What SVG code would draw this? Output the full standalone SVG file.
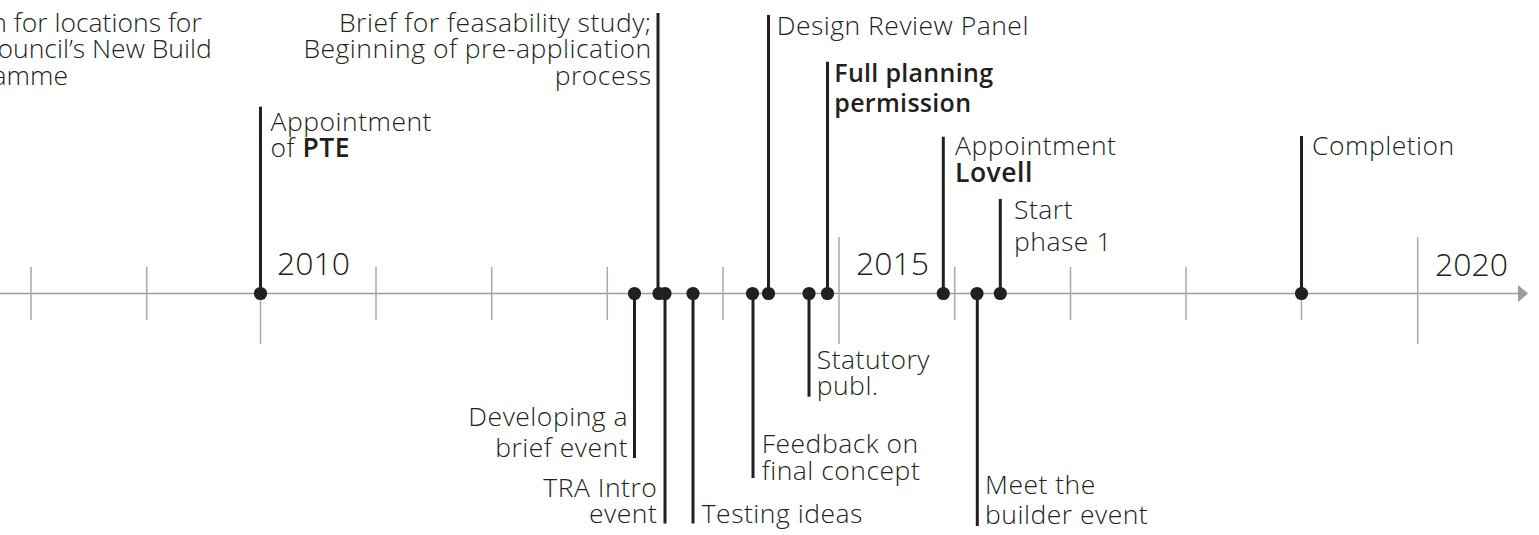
<svg xmlns="http://www.w3.org/2000/svg" width="1539" height="535" viewBox="0 0 1539 535">
<style>
.lbl{font-family:"Open Sans","Noto Sans",sans-serif;font-size:26.5px;font-weight:300;letter-spacing:0.5px;fill:#231f20}
.tight{letter-spacing:0px}
.b{font-weight:600}
.fp{font-size:25px;letter-spacing:0.3px}
.end{text-anchor:end}
.year{font-family:"Open Sans","Noto Sans",sans-serif;font-size:32px;font-weight:300;fill:#231f20}
.stem{stroke:#231f20;stroke-width:3;fill:none}
.tick{stroke:#a7a9ac;stroke-width:1.5;fill:none}
.axis{stroke:#9a9ca0;stroke-width:1.5;fill:none}
.dot{fill:#231f20}
</style>
<rect width="1539" height="535" fill="#ffffff"/>
<g id="axis">
<line class="axis" x1="0" y1="293.5" x2="1520" y2="293.5"/>
<polygon points="1518,285 1528,293.5 1518,302" fill="#9a9ca0"/>
<line class="tick" x1="31" y1="267" x2="31" y2="320"/>
<line class="tick" x1="146.7" y1="267" x2="146.7" y2="320"/>
<line class="tick" x1="260.5" y1="237" x2="260.5" y2="344"/>
<line class="tick" x1="376" y1="267" x2="376" y2="320"/>
<line class="tick" x1="491.7" y1="267" x2="491.7" y2="320"/>
<line class="tick" x1="607.3" y1="267" x2="607.3" y2="320"/>
<line class="tick" x1="723" y1="267" x2="723" y2="320"/>
<line class="tick" x1="839" y1="237" x2="839" y2="344"/>
<line class="tick" x1="954.7" y1="267" x2="954.7" y2="320"/>
<line class="tick" x1="1070.5" y1="267" x2="1070.5" y2="320"/>
<line class="tick" x1="1186" y1="267" x2="1186" y2="320"/>
<line class="tick" x1="1301.5" y1="267" x2="1301.5" y2="320"/>
<line class="tick" x1="1417.7" y1="237" x2="1417.7" y2="344"/>
<text class="year" x="277" y="275">2010</text>
<text class="year" x="856" y="275">2015</text>
<text class="year" x="1435" y="276">2020</text>
</g>
<g id="connectors">
<line class="stem" x1="260.5" y1="106.7" x2="260.5" y2="293.5"/>
<line class="stem" x1="658" y1="13" x2="658" y2="293.5"/>
<line class="stem" x1="768.5" y1="15" x2="768.5" y2="293.5"/>
<line class="stem" x1="827.5" y1="61.7" x2="827.5" y2="293.5"/>
<line class="stem" x1="943.3" y1="136.7" x2="943.3" y2="293.5"/>
<line class="stem" x1="1000.3" y1="199" x2="1000.3" y2="293.5"/>
<line class="stem" x1="1301.5" y1="136" x2="1301.5" y2="293.5"/>
<line class="stem" x1="634.5" y1="293.5" x2="634.5" y2="458"/>
<line class="stem" x1="665" y1="293.5" x2="665" y2="523.5"/>
<line class="stem" x1="693" y1="293.5" x2="693" y2="523.5"/>
<line class="stem" x1="753" y1="293.5" x2="753" y2="478"/>
<line class="stem" x1="809" y1="293.5" x2="809" y2="396.7"/>
<line class="stem" x1="977.3" y1="293.5" x2="977.3" y2="526"/>
</g>
<g id="ev-search">
<text class="lbl tight end" x="201.7" y="31.7">n for locations for</text>
<text class="lbl tight end" x="211.7" y="58.3">ouncil’s New Build</text>
<text class="lbl tight end" x="68" y="84.5">amme</text>
</g>
<g id="ev-pte">
<circle class="dot" cx="260.5" cy="293.5" r="6.6"/>
<text class="lbl" x="270.5" y="130.5">Appointment</text>
<text class="lbl" x="270.5" y="156.7">of <tspan class="b">PTE</tspan></text>
</g>
<g id="ev-developing">
<circle class="dot" cx="634.5" cy="293.5" r="6.6"/>
<text class="lbl end" x="628" y="425.7">Developing a</text>
<text class="lbl end" x="628" y="456.7">brief event</text>
</g>
<g id="ev-brief">
<circle class="dot" cx="659" cy="293.5" r="6.6"/>
<text class="lbl end" x="651.7" y="31.7">Brief for feasability study;</text>
<text class="lbl end" x="651.7" y="58.3">Beginning of pre-application</text>
<text class="lbl end" x="651.7" y="85">process</text>
</g>
<g id="ev-tra">
<circle class="dot" cx="665" cy="293.5" r="6.6"/>
<text class="lbl end" x="657.3" y="496.7">TRA Intro</text>
<text class="lbl end" x="657.3" y="523">event</text>
</g>
<g id="ev-testing">
<circle class="dot" cx="693" cy="293.5" r="6.6"/>
<text class="lbl" x="701.7" y="523">Testing ideas</text>
</g>
<g id="ev-feedback">
<circle class="dot" cx="752.5" cy="293.5" r="6.6"/>
<text class="lbl" x="761.7" y="453.3">Feedback on</text>
<text class="lbl" x="761.7" y="480">final concept</text>
</g>
<g id="ev-design">
<circle class="dot" cx="768.5" cy="293.5" r="6.6"/>
<text class="lbl" x="776.7" y="35">Design Review Panel</text>
</g>
<g id="ev-statutory">
<circle class="dot" cx="809" cy="293.5" r="6.6"/>
<text class="lbl" x="816.7" y="369.3">Statutory</text>
<text class="lbl" x="816.7" y="395">publ.</text>
</g>
<g id="ev-planning">
<circle class="dot" cx="827.5" cy="293.5" r="6.6"/>
<text class="lbl b fp" x="834.3" y="81.7">Full planning</text>
<text class="lbl b fp" x="834.3" y="112">permission</text>
</g>
<g id="ev-lovell">
<circle class="dot" cx="943.3" cy="293.5" r="6.6"/>
<text class="lbl" x="955" y="155">Appointment</text>
<text class="lbl b" x="955" y="181.7">Lovell</text>
</g>
<g id="ev-meet">
<circle class="dot" cx="977" cy="293.5" r="6.6"/>
<text class="lbl" x="985" y="494.3">Meet the</text>
<text class="lbl" x="985" y="524.3">builder event</text>
</g>
<g id="ev-start">
<circle class="dot" cx="1000.3" cy="293.5" r="6.6"/>
<text class="lbl" x="1014" y="219.3">Start</text>
<text class="lbl" x="1014" y="251">phase 1</text>
</g>
<g id="ev-completion">
<circle class="dot" cx="1301.5" cy="293.5" r="6.6"/>
<text class="lbl" x="1312" y="155">Completion</text>
</g>
</svg>
